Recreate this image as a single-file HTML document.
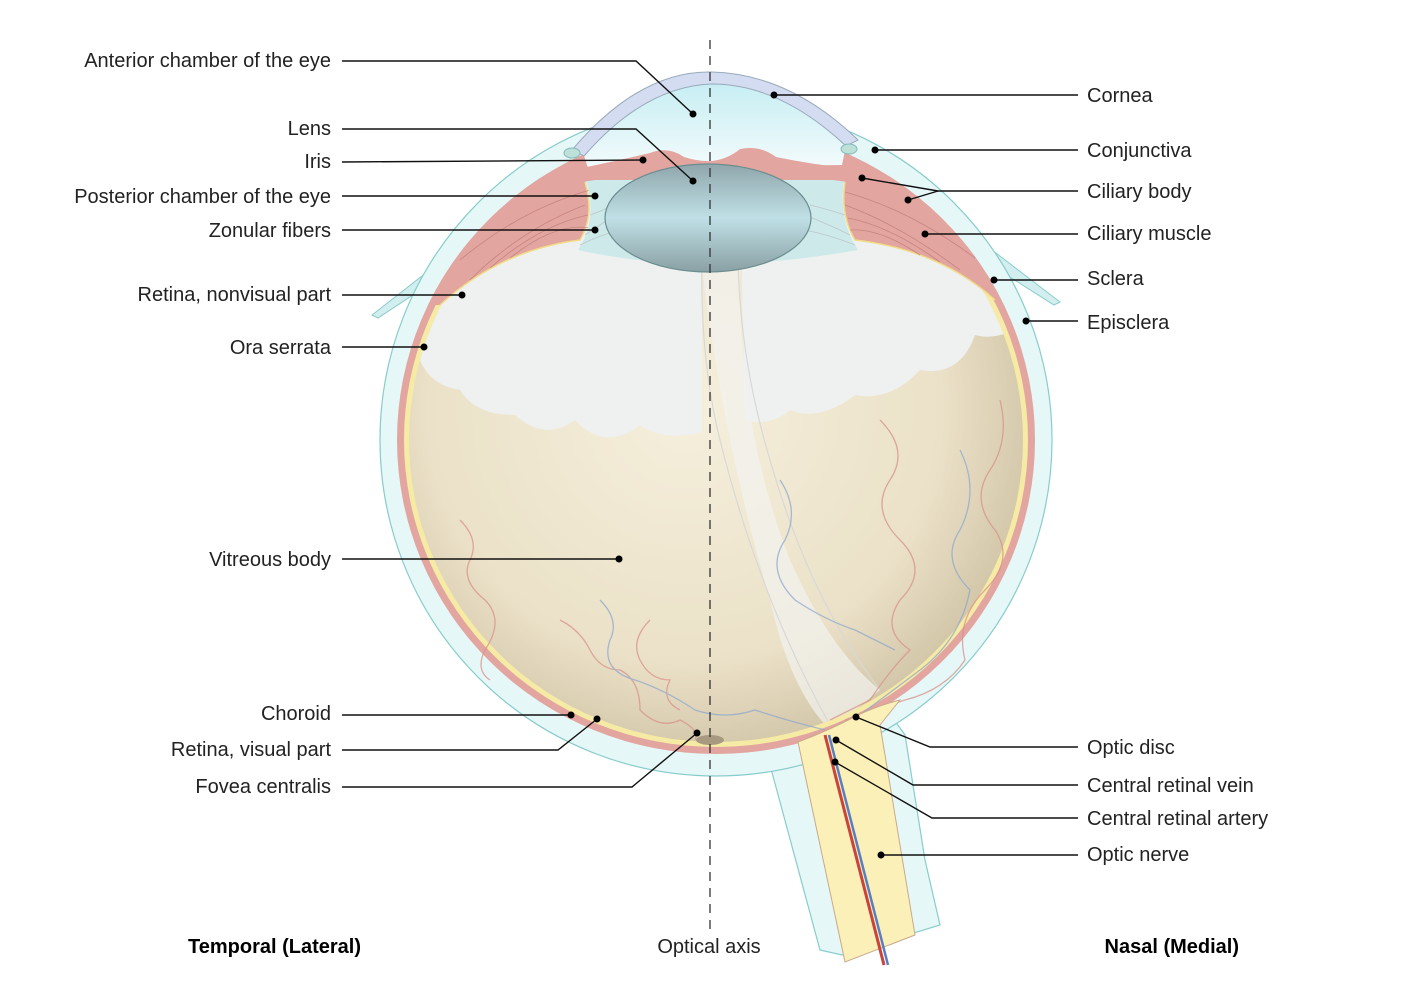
<!DOCTYPE html>
<html><head><meta charset="utf-8"><style>
html,body{margin:0;padding:0;background:#fff;}
svg{display:block;}
text{font-family:"Liberation Sans",sans-serif;font-size:20px;fill:#222;font-weight:300;}
.b{font-weight:bold;fill:#000;}
.l{stroke:#111;stroke-width:1.4;fill:none;}
</style></head><body>
<svg width="1414" height="999" viewBox="0 0 1414 999" xmlns="http://www.w3.org/2000/svg">
<defs>
<radialGradient id="vit" cx="0.45" cy="0.45" r="0.6">
<stop offset="0" stop-color="#f5efdc"/><stop offset="0.7" stop-color="#ebe1c8"/><stop offset="1" stop-color="#cfc2a4"/></radialGradient>
<linearGradient id="lens" x1="0" y1="0" x2="0" y2="1">
<stop offset="0" stop-color="#8fa6ab"/><stop offset="0.5" stop-color="#bfe0e6"/><stop offset="1" stop-color="#8aa0a4"/></linearGradient>
<linearGradient id="ac" x1="0" y1="0" x2="0" y2="1">
<stop offset="0" stop-color="#c7eef3"/><stop offset="1" stop-color="#f3fbfc"/></linearGradient>
<clipPath id="cv"><ellipse cx="716" cy="440" rx="307" ry="302"/></clipPath>
<clipPath id="cc"><ellipse cx="716" cy="440" rx="319" ry="314"/></clipPath>
</defs>
<!-- episclera flaps -->
<path d="M372,315 L440,262 L448,272 L378,318 Z" fill="#d3eeee" stroke="#8cc" stroke-width="1"/>
<path d="M1060,302 L992,250 L986,262 L1054,305 Z" fill="#d3eeee" stroke="#8cc" stroke-width="1"/>
<!-- optic nerve sheath -->
<path d="M770,765 L820,950 L842,955 L940,925 L925,860 L905,735 L880,700 Z" fill="#e6f7f7" stroke="#8cc" stroke-width="1.2"/>
<!-- sclera -->
<ellipse cx="716" cy="440" rx="336" ry="336" fill="#e6f7f7" stroke="#8cc" stroke-width="1.2"/>
<ellipse cx="716" cy="440" rx="319" ry="314" fill="#e3a5a0"/>
<ellipse cx="716" cy="440" rx="312" ry="307" fill="#f6eba5"/>
<ellipse cx="716" cy="440" rx="307" ry="302" fill="url(#vit)"/>
<!-- white upper patches -->
<g clip-path="url(#cv)">
<path d="M400,100 L702,100 L702,432 Q665,442 640,425 Q605,452 575,420 Q545,442 515,415 Q475,415 460,390 Q430,385 420,360 Z" fill="#eff1f1"/>
<path d="M738,100 L1030,100 L1030,320 Q1000,342 975,335 Q960,377 920,370 Q890,402 855,395 Q820,422 790,410 Q770,427 745,420 Z" fill="#eff1f1"/>
<path d="M700,250 L740,250 Q735,420 790,560 Q830,650 880,690 L830,730 Q790,690 770,600 Q720,430 700,250 Z" fill="#f2f2f0" opacity="0.7"/>
<path d="M702,260 Q700,360 720,440 Q760,600 830,725" fill="none" stroke="#d8d8d6" stroke-width="1.2"/>
<path d="M738,260 Q740,360 770,460 Q810,600 880,690" fill="none" stroke="#d8d8d6" stroke-width="1.2"/>
</g>
<!-- vessels -->
<g fill="none" stroke-width="1.3" opacity="0.75">
<path d="M460,520 q20,20 10,40 q-10,20 15,40 q20,20 0,50 q-10,20 5,30 M560,620 q20,10 30,30 q10,20 30,20 q20,10 20,40 q20,20 40,10 q20,10 15,20 M650,620 q-20,20 -10,40 q10,20 30,20 q-10,20 10,30 M880,420 q30,30 10,60 q-20,30 10,60 q30,30 0,60 q-20,30 10,50 q-20,20 -40,50 q-20,10 -40,20 M1000,400 q10,40 -10,70 q-20,30 5,60 q20,30 -10,60 q-30,30 -20,70 q-20,30 -60,40 q-30,10 -60,20" stroke="#d9918a"/>
<path d="M600,600 q20,20 10,40 q-10,30 25,40 q30,10 60,30 q30,10 60,0 q30,10 70,20 M780,480 q20,30 5,60 q-20,30 10,60 q30,20 60,30 q20,10 40,20 M960,450 q20,40 0,80 q-20,30 10,60 q-10,50 -50,80 q-40,30 -80,60" stroke="#8fa8cf"/>
</g>
<ellipse cx="710" cy="740" rx="14" ry="5" fill="#a89a80"/>
<!-- ciliary body -->
<g clip-path="url(#cc)">
<path d="M400,100 L1040,100 L1040,300 L995,300 Q940,250 855,240 Q840,215 845,180 L585,180 Q595,215 580,240 Q500,250 440,305 L390,305 Z" fill="#e3a5a0"/>
</g>
<path d="M440,305 Q500,250 580,240 Q595,215 585,182" fill="none" stroke="#f1dc86" stroke-width="1.5"/>
<path d="M995,300 Q940,250 855,240 Q840,215 845,182" fill="none" stroke="#f1dc86" stroke-width="1.5"/>
<g stroke="#b97670" stroke-width="0.8" fill="none" opacity="0.7">
<path d="M470,280 Q520,230 585,205 M490,268 Q540,225 588,215 M510,258 Q555,222 590,228 M460,260 Q520,210 590,190"/>
<path d="M960,270 Q900,225 845,205 M940,262 Q890,226 848,218 M920,255 Q880,228 850,230 M975,258 Q910,210 845,192"/>
</g>
<!-- posterior chamber -->
<path d="M586,180 L844,180 Q838,220 858,250 Q780,264 710,264 Q640,264 578,250 Q598,220 586,180 Z" fill="#cde9ea"/>
<g stroke="#bcc8c8" stroke-width="0.8" fill="none">
<path d="M585,235 Q600,225 615,215 M580,245 Q600,235 620,230 M590,215 Q605,210 612,205 M850,235 Q830,225 805,215 M855,245 Q830,235 805,230 M845,215 Q830,210 810,205"/>
</g>
<!-- anterior chamber & cornea -->
<path d="M584,156 Q645,86 712,84 Q780,84 846,146 L842,165 L588,168 Z" fill="url(#ac)"/>
<path d="M572,150 Q640,70 712,72 Q790,74 858,140 L846,146 Q780,84 712,84 Q645,86 584,156 Z" fill="#d4dcf2" stroke="#9ab" stroke-width="1"/>
<ellipse cx="572" cy="153" rx="8" ry="5" fill="#bde0d8" stroke="#8bb" stroke-width="1"/>
<ellipse cx="849" cy="149" rx="8" ry="5" fill="#bde0d8" stroke="#8bb" stroke-width="1"/>
<!-- iris -->
<path d="M582,168 Q620,160 650,153 Q668,146 684,157 Q700,162 712,161 Q728,159 740,149 Q760,145 776,157 Q810,164 846,168 L848,182 Q780,172 712,172 Q645,172 582,182 Z" fill="#e3a5a0"/>
<!-- lens -->
<ellipse cx="708" cy="218" rx="103" ry="54" fill="url(#lens)" stroke="#6b8d8f" stroke-width="1.2"/>
<!-- optic nerve -->
<path d="M798,742 Q830,730 858,715 Q880,705 900,700 L880,725 L915,935 L845,962 Z" fill="#fbf1b8" stroke="#c9a88a" stroke-width="1"/>
<path d="M825,735 L884,965" stroke="#c9443c" stroke-width="3" fill="none"/>
<path d="M829,735 L888,965" stroke="#5a7ec3" stroke-width="2.5" fill="none"/>
<!-- axis -->
<line x1="710" y1="40" x2="710" y2="930" stroke="#333" stroke-width="1.3" stroke-dasharray="9,7"/>
<g class="l">
<polyline points="342,61 636,61 693,114"/>
<polyline points="342,129 636,129 693,181"/>
<polyline points="342,162 643,160"/>
<polyline points="342,196 595,196"/>
<polyline points="342,230 595,230"/>
<polyline points="342,295 462,295"/>
<polyline points="342,347 424,347"/>
<polyline points="342,559 619,559"/>
<polyline points="342,715 571,715"/>
<polyline points="342,750 558,750 597,719"/>
<polyline points="342,787 632,787 697,733"/>
<polyline points="774,95 1078,95"/>
<polyline points="875,150 1078,150"/>
<polyline points="862,178 938,191 1078,191"/>
<polyline points="908,200 938,191"/>
<polyline points="925,234 1078,234"/>
<polyline points="994,280 1078,280"/>
<polyline points="1026,321 1078,321"/>
<polyline points="856,717 930,747 1078,747"/>
<polyline points="836,740 913,785 1078,785"/>
<polyline points="835,762 932,818 1078,818"/>
<polyline points="881,855 1078,855"/>
</g>
<g fill="#000">
<circle cx="693" cy="114" r="3.5"/><circle cx="693" cy="181" r="3.5"/><circle cx="643" cy="160" r="3.5"/>
<circle cx="595" cy="196" r="3.5"/><circle cx="595" cy="230" r="3.5"/><circle cx="462" cy="295" r="3.5"/>
<circle cx="424" cy="347" r="3.5"/><circle cx="619" cy="559" r="3.5"/><circle cx="571" cy="715" r="3.5"/>
<circle cx="597" cy="719" r="3.5"/><circle cx="697" cy="733" r="3.5"/><circle cx="774" cy="95" r="3.5"/>
<circle cx="875" cy="150" r="3.5"/><circle cx="862" cy="178" r="3.5"/><circle cx="908" cy="200" r="3.5"/>
<circle cx="925" cy="234" r="3.5"/><circle cx="994" cy="280" r="3.5"/><circle cx="1026" cy="321" r="3.5"/>
<circle cx="856" cy="717" r="3.5"/><circle cx="836" cy="740" r="3.5"/><circle cx="835" cy="762" r="3.5"/>
<circle cx="881" cy="855" r="3.5"/>
</g>
<g text-anchor="end">
<text x="331" y="67">Anterior chamber of the eye</text>
<text x="331" y="135">Lens</text>
<text x="331" y="168">Iris</text>
<text x="331" y="203">Posterior chamber of the eye</text>
<text x="331" y="237">Zonular fibers</text>
<text x="331" y="301">Retina, nonvisual part</text>
<text x="331" y="354">Ora serrata</text>
<text x="331" y="566">Vitreous body</text>
<text x="331" y="720">Choroid</text>
<text x="331" y="756">Retina, visual part</text>
<text x="331" y="793">Fovea centralis</text>
</g>
<g>
<text x="1087" y="102">Cornea</text>
<text x="1087" y="157">Conjunctiva</text>
<text x="1087" y="198">Ciliary body</text>
<text x="1087" y="240">Ciliary muscle</text>
<text x="1087" y="285">Sclera</text>
<text x="1087" y="329">Episclera</text>
<text x="1087" y="754">Optic disc</text>
<text x="1087" y="792">Central retinal vein</text>
<text x="1087" y="825">Central retinal artery</text>
<text x="1087" y="861">Optic nerve</text>
</g>
<text x="188" y="953" class="b">Temporal (Lateral)</text>
<text x="709" y="953" text-anchor="middle">Optical axis</text>
<text x="1239" y="953" class="b" text-anchor="end">Nasal (Medial)</text>
</svg>
</body></html>
